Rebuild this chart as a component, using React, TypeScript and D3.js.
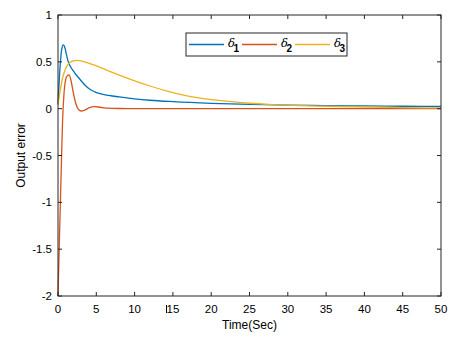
import React from "react";
import * as d3 from "d3";

const xTicks = [0, 5, 10, 15, 20, 25, 30, 35, 40, 45, 50];
const yTicks = [-2, -1.5, -1, -0.5, 0, 0.5, 1];
const yTickLabels = ["-2", "-1.5", "-1", "-0.5", "0", "0.5", "1"];

const t1 = [0, 0.3, 0.5, 0.7, 0.9, 1.1, 1.3, 1.7, 2.2, 2.7, 3.1, 3.6, 4.2, 4.8, 5.5, 6.6, 8, 10, 12, 15, 20, 25, 30, 35, 40, 45, 50];
const d1 = [0.05, 0.48, 0.64, 0.68, 0.65, 0.58, 0.51, 0.44, 0.38, 0.33, 0.29, 0.245, 0.205, 0.18, 0.16, 0.142, 0.125, 0.105, 0.09, 0.075, 0.057, 0.045, 0.038, 0.033, 0.029, 0.026, 0.024];

const t2 = [0, 0.2, 0.4, 0.6, 0.8, 1.0, 1.2, 1.45, 1.7, 2.0, 2.3, 2.6, 3.0, 3.5, 4.1, 4.8, 5.5, 6.5, 8, 10, 15, 20, 30, 40, 50];
const d2 = [-2, -1.35, -0.72, -0.12, 0.18, 0.31, 0.35, 0.36, 0.3, 0.17, 0.06, 0.0, -0.025, -0.015, 0.012, 0.022, 0.015, 0.005, 0.002, 0.001, 0.0, 0.0, 0.0, 0.0, 0.0];

const t3 = [0, 0.3, 0.6, 1.0, 1.5, 2.0, 2.5, 3.0, 4.0, 5.0, 6.5, 8, 10, 12, 14.6, 17, 19.8, 22, 25, 28, 30, 35, 40, 45, 50];
const d3v = [0.04, 0.2, 0.33, 0.43, 0.49, 0.51, 0.515, 0.51, 0.487, 0.457, 0.407, 0.357, 0.297, 0.242, 0.18, 0.135, 0.1, 0.08, 0.058, 0.044, 0.037, 0.026, 0.018, 0.012, 0.008];

const seriesNames = ["1", "2", "3"];
const colors = ["#0072BD", "#D95319", "#EDB120"];

export default function App() {
  const W = 470, H = 339;
  const L = 58, R = 441, T = 15, B = 296;
  const x = d3.scaleLinear().domain([0, 50]).range([L, R]);
  const y = d3.scaleLinear().domain([-2, 1]).range([B, T]);
  const line = d3.line<[number, number]>().x(d => x(d[0])).y(d => y(d[1])).curve(d3.curveMonotoneX);
  const series = [
    t1.map((t, i) => [t, d1[i]] as [number, number]),
    t2.map((t, i) => [t, d2[i]] as [number, number]),
    t3.map((t, i) => [t, d3v[i]] as [number, number]),
  ];
  const axisColor = "#262626";
  const font = "Liberation Sans, Arial, sans-serif";
  const tl = 4;
  const legX = [189, 242, 295];
  return (
    <svg width={W} height={H} style={{ position: "absolute", left: 0, top: 0 }} fontFamily={font}>
      <rect x={0} y={0} width={W} height={H} fill="#fff" />
      {series.map((s, i) => (
        <path key={i} d={line(s) || ""} fill="none" stroke={colors[i]} strokeWidth={1.3} />
      ))}
      <rect x={L} y={T} width={R - L} height={B - T} fill="none" stroke={axisColor} strokeWidth={1} />
      {xTicks.map(v => (
        <g key={"x" + v}>
          <line x1={x(v)} x2={x(v)} y1={B} y2={B - tl} stroke={axisColor} />
          <line x1={x(v)} x2={x(v)} y1={T} y2={T + tl} stroke={axisColor} />
          <text x={x(v)} y={313} textAnchor="middle" fontSize={11.5} fill="#000">{v}</text>
        </g>
      ))}
      <line x1={166.5} x2={166.5} y1={305} y2={313} stroke="#000" strokeWidth={1} />
      {yTicks.map((v, i) => (
        <g key={"y" + v}>
          <line x1={L} x2={L + tl} y1={y(v)} y2={y(v)} stroke={axisColor} />
          <line x1={R} x2={R - tl} y1={y(v)} y2={y(v)} stroke={axisColor} />
          <text x={52} y={y(v) + 4} textAnchor="end" fontSize={11.5} fill="#000">{yTickLabels[i]}</text>
        </g>
      ))}
      <text x={(L + R) / 2} y={329} textAnchor="middle" fontSize={12} fill="#000">Time(Sec)</text>
      <text transform={`translate(25,${(T + B) / 2}) rotate(-90)`} textAnchor="middle" fontSize={12} fill="#000">Output error</text>
      <rect x={186} y={33} width={161} height={23} fill="#fff" stroke={axisColor} strokeWidth={1} />
      {seriesNames.map((n, i) => (
        <g key={"l" + n}>
          <line x1={legX[i]} x2={legX[i] + 35} y1={44.5} y2={44.5} stroke={colors[i]} strokeWidth={1.3} />
          <text x={legX[i] + 39} y={47} fontSize={11.5} fontStyle="italic" fontFamily="DejaVu Serif, serif" fill="#000">δ</text>
          <text x={legX[i] + 44.5} y={52} fontSize={10} fontWeight="bold" fill="#000">{n}</text>
        </g>
      ))}
    </svg>
  );
}
